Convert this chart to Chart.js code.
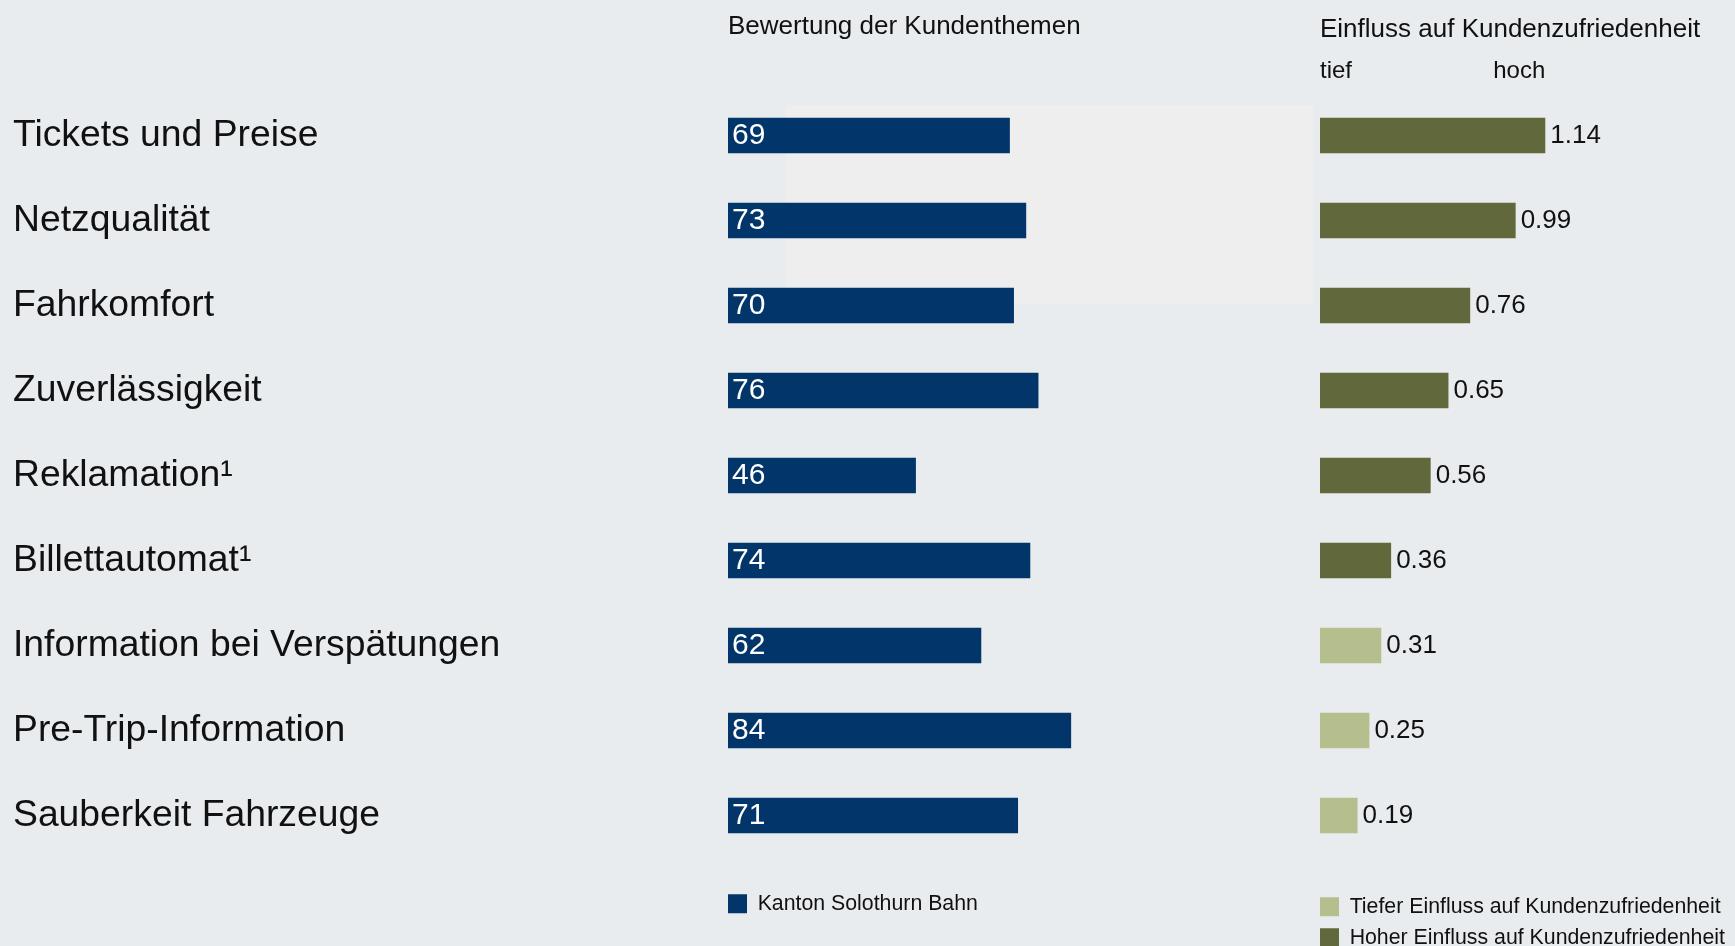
<!DOCTYPE html>
<html>
<head>
<meta charset="utf-8">
<script src="https://cdn.jsdelivr.net/npm/chart.js@4.4.1/dist/chart.umd.min.js"></script>
<style>
html, body { margin: 0; padding: 0; background: #e9ecee; overflow: hidden; width: 1735px; height: 946px; }
#shade { position: absolute; left: 786px; top: 105px; width: 527px; height: 199px; background: #eeeeee; }
#c1 { position: absolute; left: 0; top: 0; }
#c2 { position: absolute; left: 1300px; top: 0; }
</style>
</head>
<body>
<div id="shade"></div>
<canvas id="c1" width="1150" height="946"></canvas>
<canvas id="c2" width="435" height="960"></canvas>
<script>
// ---- data ----
const categories = [
  'Tickets und Preise',
  'Netzqualität',
  'Fahrkomfort',
  'Zuverlässigkeit',
  'Reklamation¹',
  'Billettautomat¹',
  'Information bei Verspätungen',
  'Pre-Trip-Information',
  'Sauberkeit Fahrzeuge'
];
const ratingValues = [69, 73, 70, 76, 46, 74, 62, 84, 71];
const highImpactValues = [1.14, 0.99, 0.76, 0.65, 0.56, 0.36, null, null, null];
const lowImpactValues = [null, null, null, null, null, null, 0.31, 0.25, 0.19];
const impactTickLabels = ['tief', 'hoch'];
const ratingSeriesName = 'Kanton Solothurn Bahn';
const lowSeriesName = 'Tiefer Einfluss auf Kundenzufriedenheit';
const highSeriesName = 'Hoher Einfluss auf Kundenzufriedenheit';
const ratingTitle = 'Bewertung der Kundenthemen';
const impactTitle = 'Einfluss auf Kundenzufriedenheit';
const ratingAxisMax = 100;
const impactAxisMax = 2.1;

// ---- style ----
const FONT = "'Liberation Sans', Arial, Helvetica, sans-serif";
const TEXT = '#111111';
const BLUE = '#02366b';
const DARK_GREEN = '#61683b';
const LIGHT_GREEN = '#b5bf8e';

const valueLabels = {
  id: 'valueLabels',
  afterDatasetsDraw(chart, args, opts) {
    const ctx = chart.ctx;
    ctx.save();
    ctx.font = opts.fontSize + 'px ' + FONT;
    ctx.fillStyle = opts.color;
    ctx.textBaseline = 'middle';
    ctx.textAlign = 'left';
    chart.data.datasets.forEach((ds, di) => {
      const meta = chart.getDatasetMeta(di);
      meta.data.forEach((bar, i) => {
        const v = ds.data[i];
        if (v === null || v === undefined) return;
        const x = opts.inside ? bar.base + opts.offset : bar.x + opts.offset;
        ctx.fillText(v.toFixed(opts.decimals), x, bar.y);
      });
    });
    ctx.restore();
  }
};

// ---- left chart: ratings ----
new Chart(document.getElementById('c1'), {
  type: 'bar',
  data: {
    labels: categories,
    datasets: [{
      label: ratingSeriesName,
      data: ratingValues,
      backgroundColor: BLUE,
      borderWidth: 0,
      barPercentage: 0.42,
      categoryPercentage: 1
    }]
  },
  options: {
    indexAxis: 'y',
    responsive: false,
    animation: false,
    layout: { padding: { left: 13, right: 13.5, top: 0, bottom: 21.5 } },
    scales: {
      x: {
        display: false, min: 0, max: ratingAxisMax,
        afterFit: s => { s.height = 35.2; }
      },
      y: {
        grid: { display: false, drawTicks: false },
        border: { display: false },
        ticks: {
          color: TEXT, font: { family: FONT, size: 37.3 },
          crossAlign: 'far', padding: 0, autoSkip: false
        },
        afterFit: s => { s.width = 715; }
      }
    },
    plugins: {
      title: {
        display: true, text: ratingTitle, align: 'start', fullSize: false,
        color: TEXT, font: { family: FONT, size: 26, weight: 'normal' },
        padding: { top: 11.2, bottom: 50.6 }
      },
      legend: {
        position: 'bottom', align: 'start', fullSize: false,
        labels: {
          boxWidth: 19, boxHeight: 19, padding: 0, color: TEXT,
          font: { family: FONT, size: 21.3 }
        }
      },
      tooltip: { enabled: false },
      valueLabels: { inside: true, offset: 4, color: '#ffffff', fontSize: 30, decimals: 0 }
    }
  },
  plugins: [valueLabels]
});

// ---- right chart: impact ----
const impactMax = Math.max(...highImpactValues.filter(v => v !== null), ...lowImpactValues.filter(v => v !== null));
new Chart(document.getElementById('c2'), {
  type: 'bar',
  data: {
    labels: categories,
    datasets: [{
      label: lowSeriesName,
      data: lowImpactValues,
      backgroundColor: LIGHT_GREEN,
      borderWidth: 0,
      grouped: false,
      barPercentage: 0.42,
      categoryPercentage: 1,
      xAxisID: 'x'
    }, {
      label: highSeriesName,
      data: highImpactValues,
      backgroundColor: DARK_GREEN,
      borderWidth: 0,
      grouped: false,
      barPercentage: 0.42,
      categoryPercentage: 1,
      xAxisID: 'x'
    }]
  },
  options: {
    indexAxis: 'y',
    responsive: false,
    animation: false,
    layout: { padding: { left: 10.3, right: 0, top: 0, bottom: 1.65 } },
    scales: {
      x: {
        position: 'top', min: 0, max: impactAxisMax,
        grid: { display: false, drawTicks: false },
        border: { display: false },
        afterBuildTicks: s => { s.ticks = [{ value: 0 }, { value: impactMax }]; },
        ticks: {
          color: TEXT, font: { family: FONT, size: 24 }, align: 'inner',
          padding: 7.6, maxRotation: 0, autoSkip: false,
          callback: (v, i) => impactTickLabels[i]
        },
        afterFit: s => { s.height = 36; }
      },
      x2: {
        type: 'linear', position: 'bottom', display: false,
        afterFit: s => { s.height = 28.35; }
      },
      y: {
        display: false,
        afterFit: s => { s.width = 9.7; }
      }
    },
    plugins: {
      title: {
        display: true, text: impactTitle, align: 'start', fullSize: false,
        color: TEXT, font: { family: FONT, size: 26, weight: 'normal' },
        padding: { top: 14.3, bottom: 11.5 }
      },
      legend: {
        position: 'bottom', align: 'start', fullSize: true,
        labels: {
          boxWidth: 19, boxHeight: 19, padding: 9.7, color: TEXT,
          font: { family: FONT, size: 21.3 }
        }
      },
      tooltip: { enabled: false },
      valueLabels: { inside: false, offset: 5, color: TEXT, fontSize: 26, decimals: 2 }
    }
  },
  plugins: [valueLabels]
});
</script>
</body>
</html>
